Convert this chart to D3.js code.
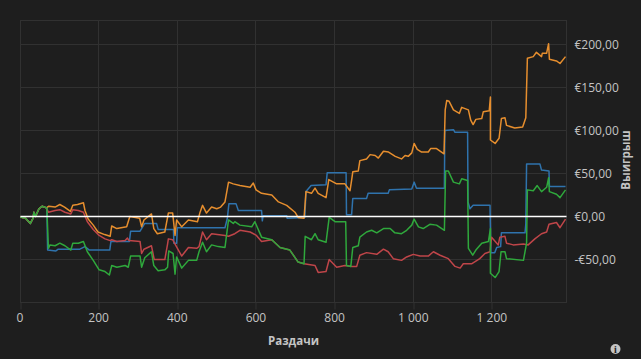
<!DOCTYPE html>
<html><head><meta charset="utf-8">
<script src="https://cdn.jsdelivr.net/npm/d3@7"></script>
<style>
html,body{margin:0;padding:0;background:#1e1e1e}
svg{display:block}
text{font-family:"Open Sans",sans-serif}
</style></head><body>
<svg id="c" width="641" height="359"></svg>
<script>
const xTicks=[0,200,400,600,800,1000,1200];
const yTicks=[-50,0,50,100,150,200];
const xLabel="Раздачи", yLabel="Выигрыш";
const opening=[[0,0],[2,-1],[13,-2],[25,-8],[32,-2],[34,5],[38,0],[47,9],[55,12],[66,10]];
const orange=[[72,12],[88,11],[100,14],[112,11],[127,6],[133,13],[145,14],[160,16],[164,7],[172,-3],[185,-10],[197,-18],[214,-21],[228,-23],[232,-11],[245,-14],[270,-12],[278,0],[303,-2],[308,-12],[314,-4],[333,3],[339,-14],[348,-20],[367,-18],[376,4],[387,4],[393,-22],[397,-4],[410,-12],[427,-4],[450,-6],[456,4],[463,13],[473,4],[486,11],[499,9],[509,11],[520,17],[529,40],[541,38],[558,36],[584,34],[592,39],[599,31],[613,27],[639,25],[656,17],[677,13],[698,5],[706,-1],[721,-2],[726,29],[740,27],[749,33],[757,27],[777,22],[784,43],[804,38],[825,38],[838,30],[842,42],[845,52],[859,53],[863,65],[880,67],[889,72],[902,71],[910,68],[923,76],[936,75],[953,70],[969,67],[978,71],[986,70],[995,74],[1001,85],[1009,78],[1020,75],[1037,75],[1043,79],[1058,79],[1077,73],[1080,124],[1084,135],[1090,134],[1101,124],[1116,120],[1122,127],[1139,124],[1145,112],[1151,107],[1158,113],[1173,114],[1177,122],[1192,123],[1195,139],[1195,89],[1207,85],[1217,91],[1223,114],[1232,115],[1236,106],[1257,103],[1277,104],[1285,115],[1289,184],[1304,186],[1312,191],[1325,186],[1327,190],[1338,190],[1343,201],[1345,183],[1363,181],[1372,178],[1386,186]];
const blue=[[67,10],[69,-39],[90,-40],[96,-38],[151,-38],[164,-35],[175,-39],[227,-39],[230,-29],[277,-29],[280,-17],[304,-17],[316,-8],[346,-8],[350,-15],[389,-15],[390,-31],[397,-31],[399,-13],[520,-13],[526,-2],[530,15],[548,15],[554,7],[613,7],[615,-5],[617,1],[677,1],[678,-2],[723,-1],[726,29],[739,36],[777,37],[780,51],[828,51],[829,2],[842,2],[845,21],[880,21],[884,27],[935,27],[938,31],[995,32],[1001,40],[1007,33],[1078,33],[1079,100],[1101,101],[1105,98],[1137,98],[1138,17],[1143,9],[1151,13],[1194,13],[1196,-42],[1206,-42],[1211,-36],[1221,-35],[1223,-19],[1283,-19],[1285,-9],[1287,61],[1321,61],[1325,54],[1344,53],[1345,35],[1386,35]];
const red=[[71,5],[88,7],[100,8],[113,5],[128,3],[133,8],[147,7],[160,5],[170,-6],[185,-15],[200,-22],[215,-26],[228,-28],[232,-27],[245,-29],[266,-28],[272,-25],[276,-28],[304,-29],[308,-43],[314,-38],[333,-34],[340,-50],[367,-50],[374,-32],[376,-26],[387,-27],[393,-32],[410,-46],[427,-36],[448,-37],[454,-35],[463,-18],[473,-27],[486,-20],[520,-22],[529,-23],[545,-20],[558,-16],[584,-18],[600,-22],[613,-29],[639,-27],[660,-36],[685,-39],[706,-53],[721,-55],[749,-57],[757,-65],[777,-64],[785,-50],[804,-59],[825,-57],[842,-58],[855,-58],[863,-45],[880,-42],[906,-44],[923,-38],[935,-41],[948,-49],[969,-51],[982,-47],[999,-44],[1016,-46],[1037,-46],[1050,-41],[1067,-45],[1088,-49],[1105,-58],[1118,-60],[1126,-55],[1147,-55],[1168,-49],[1181,-43],[1194,-41],[1198,-24],[1215,-33],[1219,-24],[1232,-23],[1236,-31],[1253,-33],[1279,-32],[1291,-33],[1308,-26],[1325,-20],[1338,-18],[1344,-9],[1363,-7],[1372,-13],[1386,-3]];
const green=[[67,10],[71,-37],[75,-33],[88,-34],[100,-31],[113,-34],[128,-39],[133,-31],[147,-31],[160,-29],[170,-41],[185,-51],[200,-62],[215,-64],[226,-68],[232,-57],[245,-59],[266,-57],[274,-59],[280,-46],[304,-46],[308,-59],[316,-48],[333,-41],[339,-57],[350,-63],[367,-62],[374,-59],[377,-40],[388,-43],[393,-67],[397,-47],[410,-60],[427,-51],[448,-51],[454,-41],[463,-30],[473,-41],[486,-33],[503,-35],[520,-36],[529,-4],[541,-8],[545,-6],[558,-10],[588,-12],[596,-6],[613,-24],[639,-27],[660,-36],[685,-39],[706,-53],[721,-55],[724,-23],[740,-27],[749,-20],[757,-27],[777,-30],[785,-1],[800,-6],[827,-6],[829,-57],[840,-58],[845,-36],[859,-34],[863,-24],[880,-18],[893,-16],[906,-19],[923,-14],[940,-14],[952,-19],[969,-20],[982,-16],[995,-10],[1001,-3],[1012,-12],[1024,-14],[1041,-9],[1058,-10],[1078,-16],[1081,53],[1088,53],[1101,40],[1116,38],[1122,44],[1137,42],[1139,-37],[1150,-45],[1158,-39],[1173,-31],[1190,-29],[1195,-14],[1195,-66],[1207,-71],[1217,-64],[1222,-41],[1232,-41],[1236,-49],[1279,-51],[1287,-31],[1289,31],[1304,30],[1314,36],[1325,29],[1338,34],[1343,45],[1345,29],[1363,26],[1372,22],[1386,31]];
const seriesList=[["#2f73ad",blue],["#e68e2e",orange],["#bf4549",red],["#2fa83c",green]];

const m={l:20.5,r:566.5,t:20.5,b:302.5};
const x=d3.scaleLinear().domain([0,1388.5]).range([m.l,m.r]);
const y=d3.scaleLinear().domain([-100,228]).range([m.b,m.t]);
const loc=d3.formatLocale({decimal:",",thousands:"\u00a0",grouping:[3],currency:["€",""],minus:"-"});
const svg=d3.select("#c");
svg.append("rect").attr("width",641).attr("height",359).attr("fill","#1e1e1e");
const gridC="#313131", txt="#c4c4c4";
svg.append("rect").attr("x",m.l).attr("y",m.t).attr("width",m.r-m.l).attr("height",m.b-m.t)
  .attr("fill","none").attr("stroke",gridC);

const ax=svg.append("g").attr("transform",`translate(0,${m.b})`)
  .call(d3.axisBottom(x).tickValues(xTicks).tickSize(7).tickPadding(4).tickFormat(loc.format(",d")));
ax.select(".domain").remove();
ax.selectAll("line").attr("stroke",gridC);
ax.selectAll("text").attr("fill",txt).attr("font-size",12).attr("dx",-1);
svg.append("g").selectAll("line").data(xTicks).join("line")
  .attr("x1",d=>Math.round(x(d))-.5).attr("x2",d=>Math.round(x(d))-.5).attr("y1",m.t).attr("y2",m.b).attr("stroke",gridC);
ax.selectAll("line").attr("transform",d=>`translate(${Math.round(x(d))-.5-x(d)},0)`);

const ay=svg.append("g").attr("transform",`translate(${m.r},0)`)
  .call(d3.axisRight(y).tickValues(yTicks).tickSize(0).tickPadding(8).tickFormat(loc.format("$,.2f")));
ay.select(".domain").remove();
ay.selectAll("text").attr("fill",txt).attr("font-size",12);
svg.append("g").selectAll("line").data(yTicks.concat([-100])).join("line")
  .attr("x1",m.l).attr("x2",m.r).attr("y1",d=>Math.round(y(d))-.5).attr("y2",d=>Math.round(y(d))-.5).attr("stroke",gridC);

const line=d3.line().x(d=>x(d[0])).y(d=>y(d[1]));
svg.append("g").selectAll("path").data(seriesList).join("path")
  .attr("d",d=>line(opening.concat(d[1]))).attr("fill","none").attr("stroke",d=>d[0])
  .attr("stroke-width",1.5).attr("stroke-linejoin","round");
svg.append("line").attr("x1",m.l).attr("x2",m.r).attr("y1",y(0)).attr("y2",y(0)).attr("stroke","#fff").attr("stroke-width",1.3);

svg.append("text").attr("x",293.5).attr("y",345).attr("text-anchor","middle").attr("fill",txt)
  .attr("font-size",11.5).attr("font-weight",700).text(xLabel);
svg.append("text").attr("transform","translate(630,160) rotate(-90)").attr("text-anchor","middle").attr("fill",txt)
  .attr("font-size",11.5).attr("font-weight",700).text(yLabel);
svg.append("circle").attr("cx",615.5).attr("cy",349).attr("r",5).attr("fill",txt);
svg.append("text").attr("x",615.5).attr("y",352.5).attr("text-anchor","middle").attr("fill","#1e1e1e")
  .attr("font-size",10).attr("font-weight",700).style("font-family","'Liberation Serif',serif").text("i");
</script></body></html>
